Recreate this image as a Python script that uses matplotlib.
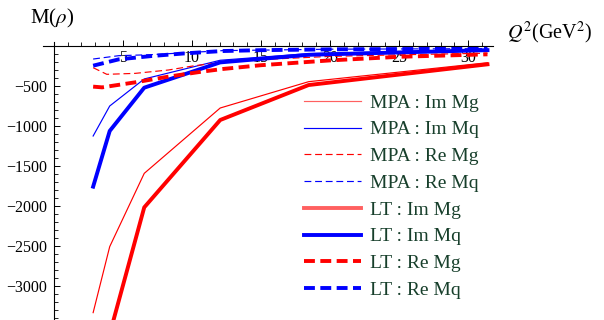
import matplotlib
matplotlib.use("Agg")
import matplotlib.pyplot as plt
import numpy as np

plt.rcParams['font.family'] = ['Liberation Serif', 'DejaVu Serif']
plt.rcParams['mathtext.fontset'] = 'stix'

# Im parts (solid lines), sampled at the Q^2 points
q2 = [2.85, 4.05, 6.55, 12.05, 18.45, 31.4]
mpa_im_mg = [-3333, -2508, -1592, -775, -446, -209]
mpa_im_mq = [-1125, -750, -412, -178, -95, -45]
lt_im_mg = [np.nan, -3600, -2017, -925, -488, -229]
lt_im_mq = [-1758, -1062, -521, -205, -110, -52]

# Re parts (dashed lines), read at more points since they are smooth
q2_mpa_re_mg = [2.85, 3.84, 5.9, 8.3, 10.2, 12.2, 15, 20, 25, 31.4]
mpa_re_mg = [-271, -354, -342, -300, -246, -205, -170, -130, -110, -90]
q2_mpa_re_mq = [2.85, 4.7, 7.1, 12.2, 20, 31.4]
mpa_re_mq = [-163, -121, -108, -58, -40, -33]
q2_lt_re_mg = [2.85, 3.5, 5.9, 8.3, 10.7, 12.2, 15, 20, 25, 31.4]
lt_re_mg = [-508, -517, -454, -383, -321, -288, -240, -180, -135, -104]
q2_lt_re_mq = [2.85, 4.7, 7.1, 9.5, 12.2, 15, 20, 25, 31.4]
lt_re_mq = [-246, -167, -125, -92, -63, -52, -42, -38, -35]

text_green = '#173f2b'
thin = 0.85
thick = 2.8

fig = plt.figure(figsize=(6.04, 3.2), dpi=100)
ax = fig.add_axes([43 / 604, 0.0, (493 - 43) / 604, 1 - 42 / 320])

l1, = ax.plot(q2, mpa_im_mg, color='#ff0000', lw=thin, label='MPA : Im Mg')
l2, = ax.plot(q2, mpa_im_mq, color='#0000ff', lw=thin, label='MPA : Im Mq')
l3, = ax.plot(q2_mpa_re_mg, mpa_re_mg, color='#ff0000', lw=thin, dashes=(5.8, 3.2), label='MPA : Re Mg')
l4, = ax.plot(q2_mpa_re_mq, mpa_re_mq, color='#0000ff', lw=thin, dashes=(5.8, 3.2), label='MPA : Re Mq')
l5, = ax.plot(q2, lt_im_mg, color='#ff0000', lw=thick, label='LT : Im Mg')
l6, = ax.plot(q2, lt_im_mq, color='#0000ff', lw=thick, label='LT : Im Mq')
l7, = ax.plot(q2_lt_re_mg, lt_re_mg, color='#ff0000', lw=thick, dashes=(2.8, 1.4), label='LT : Re Mg')
l8, = ax.plot(q2_lt_re_mq, lt_re_mq, color='#0000ff', lw=thick, dashes=(2.8, 1.4), label='LT : Re Mq')

ax.set_xlim(-0.78, 31.8)
ax.set_ylim(-3425, 50)

# Mathematica style axes crossing at the origin
for side in ['top', 'right']:
    ax.spines[side].set_visible(False)
ax.spines['left'].set_position(('data', 0))
ax.spines['bottom'].set_position(('data', 0))
ax.spines['left'].set_linewidth(0.8)
ax.spines['bottom'].set_linewidth(0.8)

ax.set_xticks([5, 10, 15, 20, 25, 30])
ax.set_xticks(np.arange(1, 32), minor=True)
ax.set_yticks([-500, -1000, -1500, -2000, -2500, -3000])
ax.set_yticks(np.arange(-3400, 0, 100), minor=True)
ax.tick_params(which='both', direction='in', labelsize=11.5)
ax.tick_params(axis='x', which='major', length=4.5, width=0.7, pad=3)
ax.tick_params(axis='x', which='minor', length=2.8, width=0.6)
ax.tick_params(axis='y', which='major', length=4.5, width=0.7, pad=5)
ax.tick_params(axis='y', which='minor', length=2.8, width=0.6)

leg = ax.legend(handles=[l1, l2, l3, l4, l5, l6, l7, l8], loc='upper left',
                bbox_to_anchor=(304 / 604, 1 - 94 / 320), bbox_transform=fig.transFigure,
                frameon=False, fontsize=14, handlelength=2.95, handletextpad=0.42,
                labelspacing=0.47, borderpad=0, borderaxespad=0)
for t in leg.get_texts():
    t.set_color(text_green)
leg_lines = leg.get_lines()
leg_lines[0].set_color('#ff6060')
leg_lines[4].set_color('#ff6060')

fig.text(52 / 604, 1 - 18 / 320, r'M($\rho$)', fontsize=15, ha='center', va='center')
fig.text(507 / 604, 1 - 33 / 320, r'$Q^2$(GeV$^2$)', fontsize=14.5, ha='left', va='center')

fig.savefig('out.png', dpi=100)
